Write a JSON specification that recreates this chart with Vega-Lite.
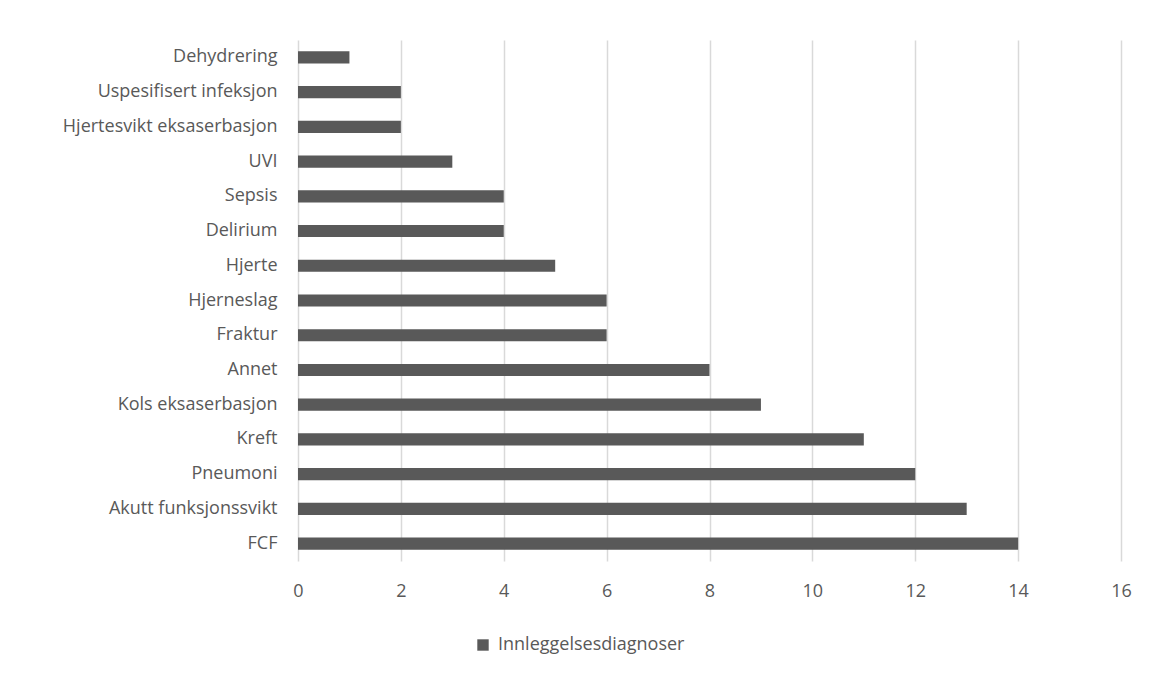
{
  "$schema": "https://vega.github.io/schema/vega-lite/v6.json",
  "autosize": "none",
  "width": 823,
  "height": 521,
  "padding": {"left": 298, "top": 40, "right": 29, "bottom": 118},
  "background": "white",
  "data": {
    "values": [
      {"diagnose": "Dehydrering", "antall": 1, "serie": "Innleggelsesdiagnoser"},
      {"diagnose": "Uspesifisert infeksjon", "antall": 2, "serie": "Innleggelsesdiagnoser"},
      {"diagnose": "Hjertesvikt eksaserbasjon", "antall": 2, "serie": "Innleggelsesdiagnoser"},
      {"diagnose": "UVI", "antall": 3, "serie": "Innleggelsesdiagnoser"},
      {"diagnose": "Sepsis", "antall": 4, "serie": "Innleggelsesdiagnoser"},
      {"diagnose": "Delirium", "antall": 4, "serie": "Innleggelsesdiagnoser"},
      {"diagnose": "Hjerte", "antall": 5, "serie": "Innleggelsesdiagnoser"},
      {"diagnose": "Hjerneslag", "antall": 6, "serie": "Innleggelsesdiagnoser"},
      {"diagnose": "Fraktur", "antall": 6, "serie": "Innleggelsesdiagnoser"},
      {"diagnose": "Annet", "antall": 8, "serie": "Innleggelsesdiagnoser"},
      {"diagnose": "Kols eksaserbasjon", "antall": 9, "serie": "Innleggelsesdiagnoser"},
      {"diagnose": "Kreft", "antall": 11, "serie": "Innleggelsesdiagnoser"},
      {"diagnose": "Pneumoni", "antall": 12, "serie": "Innleggelsesdiagnoser"},
      {"diagnose": "Akutt funksjonssvikt", "antall": 13, "serie": "Innleggelsesdiagnoser"},
      {"diagnose": "FCF", "antall": 14, "serie": "Innleggelsesdiagnoser"}
    ]
  },
  "mark": {"type": "bar"},
  "encoding": {
    "y": {
      "field": "diagnose",
      "type": "nominal",
      "sort": null,
      "title": null,
      "scale": {"paddingInner": 0.65, "paddingOuter": 0.325},
      "axis": {
        "domain": false,
        "ticks": false,
        "labelPadding": 21,
        "labelFontSize": 18,
        "labelColor": "#595959",
        "labelFont": "Open Sans",
        "labelLimit": 300
      }
    },
    "x": {
      "field": "antall",
      "type": "quantitative",
      "title": null,
      "scale": {"domain": [0, 16], "nice": false},
      "axis": {
        "values": [0, 2, 4, 6, 8, 10, 12, 14, 16],
        "domain": false,
        "ticks": false,
        "grid": true,
        "labelFlush": false,
        "gridColor": "#d9d9d9",
        "gridWidth": 1.5,
        "labelPadding": 21,
        "labelFontSize": 18,
        "labelColor": "#595959",
        "labelFont": "Open Sans"
      }
    },
    "color": {
      "field": "serie",
      "type": "nominal",
      "scale": {"range": ["#595959"]},
      "legend": {
        "title": null,
        "orient": "none",
        "legendX": 176,
        "legendY": 596,
        "symbolType": "square",
        "symbolSize": 130,
        "symbolStrokeWidth": 0,
        "labelFontSize": 18,
        "labelColor": "#595959",
        "labelFont": "Open Sans",
        "labelLimit": 400,
        "labelOffset": 6
      }
    }
  },
  "config": {
    "view": {"stroke": null}
  }
}
